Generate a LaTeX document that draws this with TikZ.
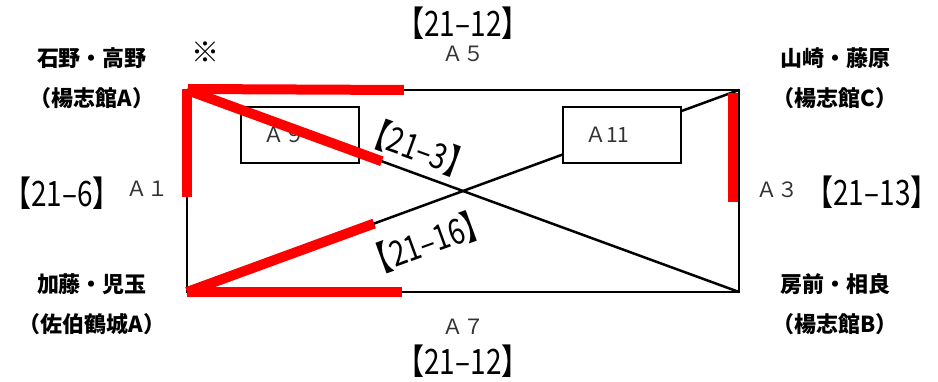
\documentclass[tikz,border=0pt]{standalone}
\usepackage{fontspec}
\newfontfamily\jpfont{Noto Sans CJK JP}
\newfontfamily\scorefont[FakeStretch=0.8]{Noto Sans CJK JP}
\usetikzlibrary{calc, positioning}
\tikzset{
    frame/.style={draw, line width=2.5pt},
    court/.style={draw, line width=1.8pt, fill=white, text width=74pt, inner xsep=22pt, minimum height=56pt, align=left, font=\jpfont\fontsize{21}{24}\selectfont, text=black!80},
    redline/.style={draw, red, line width=10pt},
    team/.style={font=\jpfont\bfseries\fontsize{22}{40}\selectfont, align=center},
    score/.style={font=\scorefont\fontsize{35}{36}\selectfont, inner sep=0pt},
    area/.style={font=\jpfont\fontsize{21}{24}\selectfont, text=black!80}
}
\begin{document}
\begin{tikzpicture}[x=1pt, y=-1pt]
    \useasboundingbox (0,0) rectangle (938,382);
    % corners of the court
    \coordinate (TL) at (187,90);
    \coordinate (TR) at (739,90);
    \coordinate (BL) at (187,292);
    \coordinate (BR) at (739,292);

    % frame and diagonals
    \draw[frame] (TL) rectangle (BR);
    \draw[frame] (TL) -- (BR);
    \draw[frame] (BL) -- (TR);

    % inner courts
    \node[court] (a9) at (300,135) {Ａ９};
    \node[court] (a11) at (622,135) {Ａ11};

    % red marks
    \draw[redline] ($(TL)+(0,-1)$) -- ($(TL)!0.53!(BL)$);
    \draw[redline] ($(TL)+(1,-1)$) -- ($(TL)!0.393!(TR)$);
    \draw[redline] (TL) -- ($(TL)!0.353!(BR)$);
    \draw[redline] (BL) -- ($(BL)!0.339!(TR)$);
    \draw[redline] (BL) -- ($(BL)!0.389!(BR)$);
    \draw[redline] ($(TR)+(-6,3)$) -- ($(TR)+(-6,112)$);

    % teams
    \node[team] (ishino) at (92,78) {石野・高野\\（楊志館A）};
    \node[team] (kato) at (92,304) {加藤・児玉\\（佐伯鶴城A）};
    \node[team] (yamasaki) at (835,78) {山崎・藤原\\（楊志館C）};
    \node[team] (fusamae) at (835,304) {房前・相良\\（楊志館B）};
    \node[area, font=\jpfont\fontsize{28}{30}\selectfont, text=black] (mark) at (205,52) {※};

    % court names
    \node[area] (a5) at (463,54) {Ａ５};
    \node[area] (a7) at (463,327) {Ａ７};
    \node[area] (a1) at (147,189) {Ａ１};
    \node[area] (a3) at (777,190) {Ａ３};

    % scores
    \node[score] (s5) at (463,23) {【21–12】};
    \node[score] (s7) at (463,361) {【21–12】};
    \node[score] (s1) at (62,193) {【21–6】};
    \node[score] (s3) at (872,192) {【21–13】};
    \node[score, rotate=-20] (s9) at (418,148) {【21–3】};
    \node[score, rotate=20] (s11) at (427,242) {【21–16】};
\end{tikzpicture}
\end{document}
